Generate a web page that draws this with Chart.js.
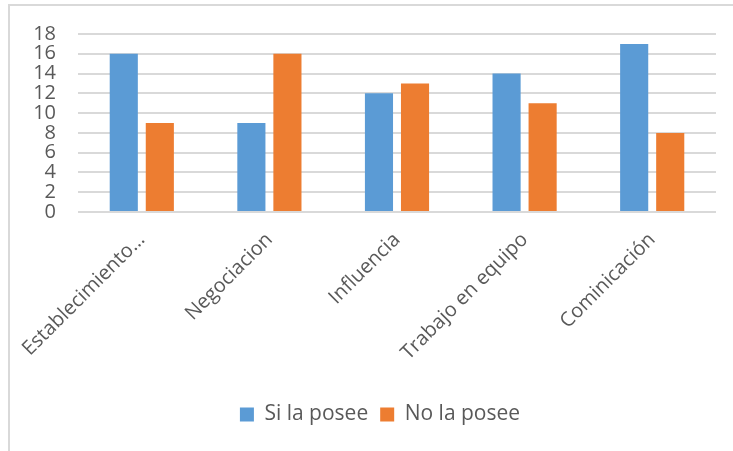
<!DOCTYPE html>
<html>
<head>
<meta charset="utf-8">
<script src="https://cdn.jsdelivr.net/npm/chart.js@4"></script>
<style>
    html, body { margin: 0; padding: 0; background: #fff; }
    #wrap { position: relative; width: 733px; height: 451px; overflow: hidden; }
    #frame { position: absolute; left: 8px; top: 4px; width: 760px; height: 480px; border: 2px solid #d9d9d9; box-sizing: border-box; }
    #chart { position: absolute; left: 0; top: 0; }
</style>
</head>
<body>
<div id="wrap">
    <div id="frame"></div>
    <canvas id="chart" width="733" height="451"></canvas>
</div>
<script>
// datos
const categorias = ['Establecimiento…', 'Negociacion', 'Influencia', 'Trabajo en equipo', 'Cominicación'];
const siLaPosee = [16, 9, 12, 14, 17];
const noLaPosee = [9, 16, 13, 11, 8];
const yMin = 0, yMax = 18, yStep = 2;

const textColor = '#595959';
const fontFam = "'Open Sans', 'Liberation Sans', sans-serif";

// la leyenda del original esta centrada en todo el recuadro, no solo en el area del grafico
const moverLeyenda = {
    id: 'moverLeyenda',
    afterLayout(chart) {
        chart.legend.left += 22;
        chart.legend.right += 22;
    }
};

new Chart(document.getElementById('chart'), {
    type: 'bar',
    data: {
        labels: categorias,
        datasets: [
            {
                label: 'Si la posee',
                data: siLaPosee,
                backgroundColor: '#5b9bd5',
                barPercentage: 0.78,
                categoryPercentage: 0.565
            },
            {
                label: 'No la posee',
                data: noLaPosee,
                backgroundColor: '#ed7d31',
                barPercentage: 0.78,
                categoryPercentage: 0.565
            }
        ]
    },
    options: {
        responsive: false,
        animation: false,
        layout: { padding: { left: 0, right: 17, top: 33, bottom: 16 } },
        plugins: {
            tooltip: { enabled: false },
            legend: {
                position: 'bottom',
                labels: {
                    color: textColor,
                    font: { family: fontFam, size: 21 },
                    boxWidth: 14,
                    boxHeight: 14,
                    padding: 12
                }
            }
        },
        scales: {
            y: {
                min: yMin,
                max: yMax,
                border: { display: false },
                grid: { color: '#d9d9d9', lineWidth: 2, drawTicks: false },
                ticks: {
                    stepSize: yStep,
                    autoSkip: false,
                    padding: 22,
                    color: textColor,
                    font: { family: fontFam, size: 20 }
                },
                afterFit: (scale) => { scale.width = 78; }
            },
            x: {
                border: { display: false },
                grid: { display: false },
                ticks: {
                    minRotation: 45,
                    maxRotation: 45,
                    autoSkip: false,
                    padding: 8,
                    color: textColor,
                    font: { family: fontFam, size: 20 }
                },
                afterFit: (scale) => { scale.height = 180; }
            }
        }
    },
    plugins: [moverLeyenda]
});
</script>
</body>
</html>
